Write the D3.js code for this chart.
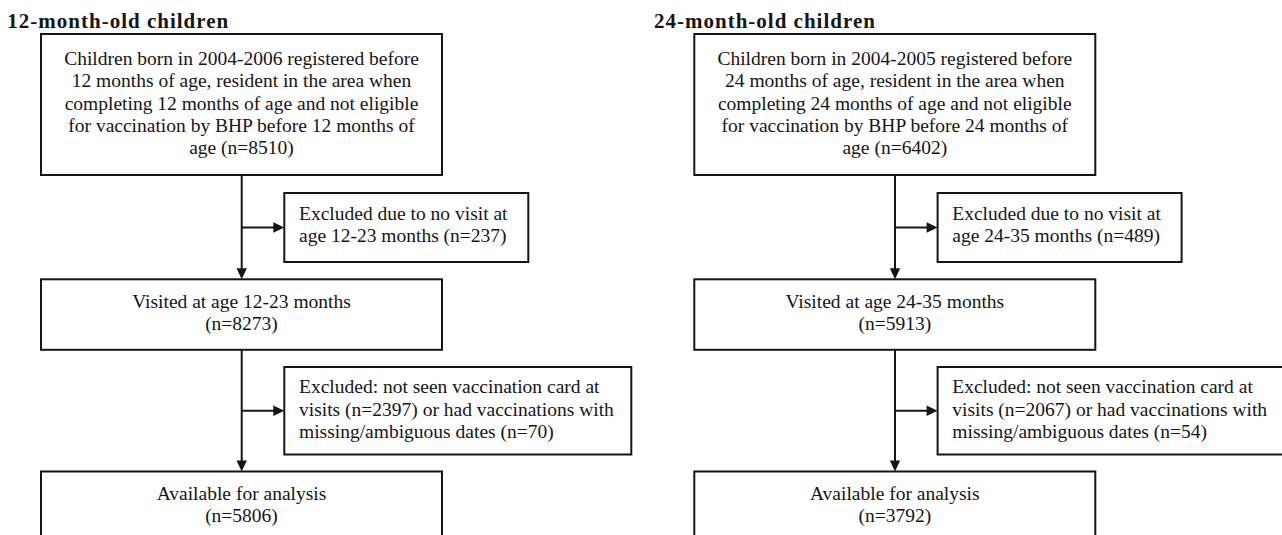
<!DOCTYPE html>
<html><head><meta charset="utf-8">
<script src="https://cdn.jsdelivr.net/npm/d3@7"></script>
<style>html,body{margin:0;padding:0;background:#fff;overflow:hidden}</style>
</head><body>
<svg id="c" width="1282" height="535"></svg>
<script>
// ---- data ----
const panels = ["12-month-old children", "24-month-old children"];
const ageMonths = [12, 24];
const birthYears = ["2004-2006", "2004-2005"];
const visitAges = ["12-23", "24-35"];
const nEligible = [8510, 6402];
const nNoVisit = [237, 489];
const nVisited = [8273, 5913];
const nNoCard = [2397, 2067];
const nMissingDates = [70, 54];
const nAnalysis = [5806, 3792];

// ---- layout ----
const svg = d3.select("#c");
const idx = d3.range(panels.length);
const panelX = d3.scaleOrdinal().domain(idx).range([41, 694.3]);
const titleX = d3.scaleOrdinal().domain(idx).range([7.3, 654]);
const mainW = 401, exclDx = 243.3, exclW1 = 244, exclW2 = 347, vDx = 200.7;
const rows = ["top", "excl1", "visited", "excl2", "bottom"];
const rowTop = d3.scaleOrdinal().domain(rows).range([34, 193, 279.3, 367, 471.5]);
const rowH = d3.scaleOrdinal().domain(rows).range([141, 69, 70.5, 87.5, 75]);
const rowBase = d3.scaleOrdinal().domain(rows).range([65, 219.5, 308, 393.3, 500]);
const lh = 22.3;
const ink = "#151515";
const font = "'Liberation Serif','Times New Roman',serif";

function boxLines(i) {
  const a = ageMonths[i];
  return {
    top: [`Children born in ${birthYears[i]} registered before`,
          `${a} months of age, resident in the area when`,
          `completing ${a} months of age and not eligible`,
          `for vaccination by BHP before ${a} months of`,
          `age (n=${nEligible[i]})`],
    excl1: ["Excluded due to no visit at", `age ${visitAges[i]} months (n=${nNoVisit[i]})`],
    visited: [`Visited at age ${visitAges[i]} months`, `(n=${nVisited[i]})`],
    excl2: ["Excluded: not seen vaccination card at",
            `visits (n=${nNoCard[i]}) or had vaccinations with`,
            `missing/ambiguous dates (n=${nMissingDates[i]})`],
    bottom: ["Available for analysis", `(n=${nAnalysis[i]})`]
  };
}

idx.forEach(i => {
  const g = svg.append("g");
  const px = panelX(i);
  const L = boxLines(i);
  // title
  g.append("text").attr("x", titleX(i)).attr("y", 28.3)
    .attr("font-family", font).attr("font-weight", "bold").attr("font-size", 21)
    .attr("letter-spacing", 1).attr("fill", ink).text(panels[i]);

  rows.forEach(r => {
    const isEx = r.startsWith("excl");
    const x = isEx ? px + exclDx : px;
    const w = r === "excl1" ? exclW1 : r === "excl2" ? exclW2 : mainW;
    g.append("rect").attr("x", x).attr("y", rowTop(r)).attr("width", w).attr("height", rowH(r))
      .attr("fill", "#fff").attr("stroke", ink).attr("stroke-width", 2);
    const t = g.append("text").attr("font-family", font).attr("font-size", 19.5).attr("fill", ink)
      .attr("text-anchor", isEx ? "start" : "middle");
    L[r].forEach((s, k) => {
      t.append("tspan").attr("x", isEx ? x + 14.7 : x + w / 2)
        .attr("y", rowBase(r) + k * lh).text(s);
    });
  });

  // connectors
  const vx = px + vDx;
  const lines = [
    [vx, rowTop("top") + rowH("top"), vx, rowTop("visited")],
    [vx, rowTop("visited") + rowH("visited"), vx, rowTop("bottom")],
    [vx, rowTop("excl1") + rowH("excl1") / 2, px + exclDx, rowTop("excl1") + rowH("excl1") / 2],
    [vx, rowTop("excl2") + rowH("excl2") / 2, px + exclDx, rowTop("excl2") + rowH("excl2") / 2]
  ];
  lines.forEach(([x1, y1, x2, y2]) => {
    const horiz = y1 === y2;
    const al = 11, aw = 5.2;
    if (horiz) {
      g.append("line").attr("x1", x1).attr("y1", y1).attr("x2", x2 - al + 1).attr("y2", y2)
        .attr("stroke", ink).attr("stroke-width", 2);
      g.append("path").attr("d", `M${x2},${y2}L${x2 - al},${y2 - aw}L${x2 - al},${y2 + aw}Z`).attr("fill", ink);
    } else {
      g.append("line").attr("x1", x1).attr("y1", y1).attr("x2", x2).attr("y2", y2 - al + 1)
        .attr("stroke", ink).attr("stroke-width", 2);
      g.append("path").attr("d", `M${x2},${y2}L${x2 - aw},${y2 - al}L${x2 + aw},${y2 - al}Z`).attr("fill", ink);
    }
  });
});
</script>
</body></html>
